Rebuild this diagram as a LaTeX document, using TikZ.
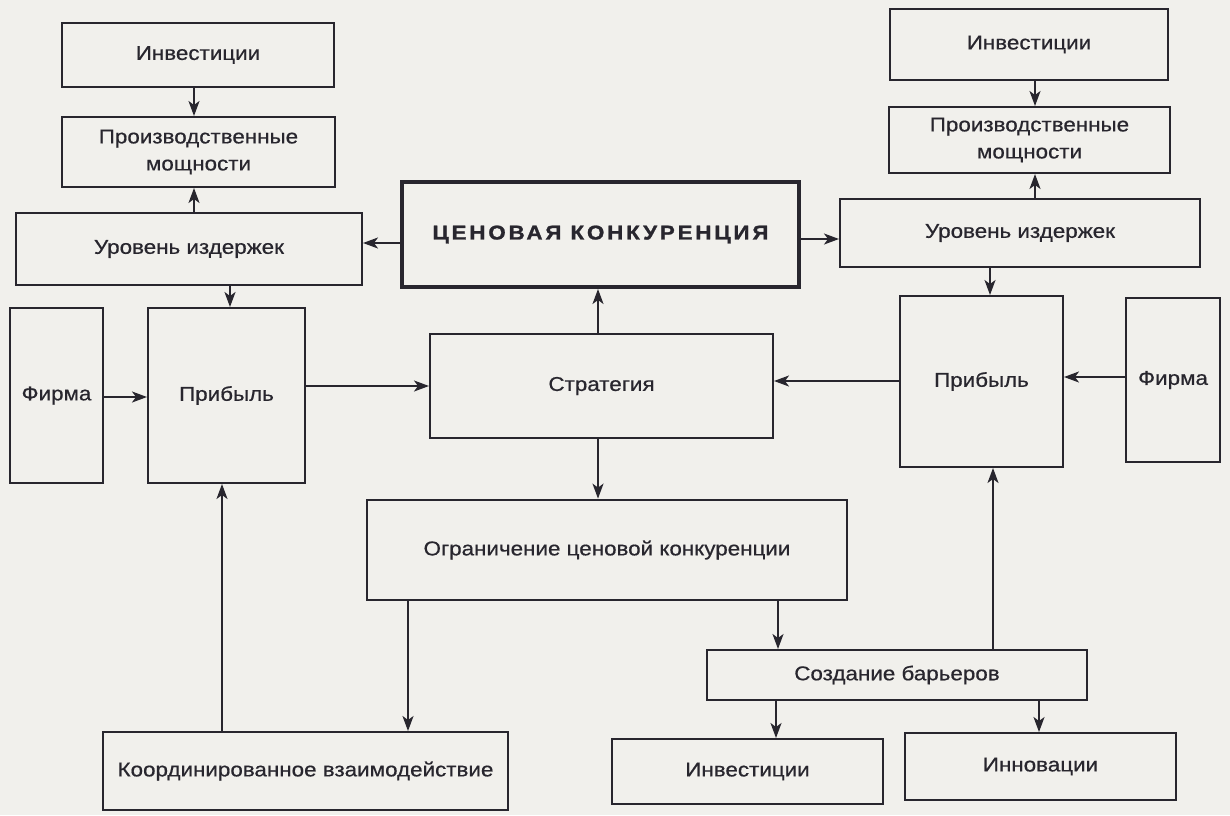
\documentclass[tikz,border=0pt]{standalone}
\usepackage{fontspec}
\setmainfont{Liberation Sans}[FakeStretch=1.12,FakeBold=0.6]
\newfontfamily\capsfont{Liberation Sans}[FakeStretch=1.12,LetterSpace=14,FakeBold=1.2]
\usetikzlibrary{arrows.meta}
\definecolor{paper}{RGB}{241,240,236}
\definecolor{ink}{RGB}{40,38,46}
\tikzset{
  box/.style={draw=ink, line width=2pt, text=ink, inner sep=0pt, align=center,
    font=\fontsize{20}{27}\selectfont},
  thickbox/.style={box, line width=4pt},
  midbox/.style={box, line width=2.8pt},
  arr/.style={draw=ink, line width=1.7pt, -{Stealth[length=15pt,width=11pt,inset=4pt]}},
}
\begin{document}
\begin{tikzpicture}[x=1pt,y=-1pt]
\fill[paper] (0,0) rectangle (1230,815);
\useasboundingbox (0,0) rectangle (1230,815);

% left column
\node[box, minimum width=272, minimum height=64] (invL) at (198,55) {Инвестиции};
\node[box, minimum width=273, minimum height=70] (prodL) at (198.5,152) {Производственные\\мощности};
\node[box, minimum width=346, minimum height=72] (costL) at (189,249) {Уровень издержек};
\node[box, minimum width=93, minimum height=175] (firmL) at (56.5,395.5) {Фирма};
\node[box, minimum width=157, minimum height=175] (profL) at (226.5,395.5) {Прибыль};

% centre
\node[thickbox, minimum width=397, minimum height=105] (price) at (600.5,234.5)
  {\capsfont\bfseries ЦЕНОВАЯ\hspace{0.45em}КОНКУРЕНЦИЯ};
\node[box, minimum width=343, minimum height=104] (strat) at (601.5,386) {Стратегия};
\node[midbox, minimum width=480, minimum height=100] (limit) at (607,550) {Ограничение ценовой конкуренции};
\node[box, minimum width=405, minimum height=78] (coord) at (305.5,771) {Координированное взаимодействие};

% right column
\node[box, minimum width=278, minimum height=71] (invR) at (1029,44.5) {Инвестиции};
\node[box, minimum width=281, minimum height=66] (prodR) at (1029.5,140) {Производственные\\мощности};
\node[box, minimum width=360, minimum height=68] (costR) at (1020,233) {Уровень издержек};
\node[box, minimum width=163, minimum height=171] (profR) at (981.5,381.5) {Прибыль};
\node[box, minimum width=94, minimum height=164] (firmR) at (1173,380) {Фирма};

% bottom right
\node[box, minimum width=380, minimum height=50] (barr) at (897,675) {Создание барьеров};
\node[box, minimum width=271, minimum height=65] (invB) at (747.5,771.5) {Инвестиции};
\node[box, minimum width=271, minimum height=67] (innov) at (1040.5,766.5) {Инновации};

% helper coordinates
\coordinate (v194) at (194,0);
\coordinate (v230) at (230,0);
\coordinate (v222) at (222,0);
\coordinate (v598) at (598,0);
\coordinate (v408) at (408,0);
\coordinate (v778) at (778,0);
\coordinate (v776) at (776,0);
\coordinate (v993) at (993,0);
\coordinate (v990) at (990,0);
\coordinate (v1035) at (1035,0);
\coordinate (v1039) at (1039,0);
\coordinate (h243) at (0,243);
\coordinate (h239) at (0,239);
\coordinate (h397) at (0,397);
\coordinate (h386) at (0,386);
\coordinate (h381) at (0,381);
\coordinate (h377) at (0,377);

% connectors left
\draw[arr] (invL.south -| v194) -- (prodL.north -| v194);
\draw[arr] (costL.north -| v194) -- (prodL.south -| v194);
\draw[arr] (price.west |- h243) -- (costL.east |- h243);
\draw[arr] (costL.south -| v230) -- (profL.north -| v230);
\draw[arr] (firmL.east |- h397) -- (profL.west |- h397);
\draw[arr] (profL.east |- h386) -- (strat.west |- h386);
\draw[arr] (coord.north -| v222) -- (profL.south -| v222);

% connectors centre
\draw[arr] (strat.north -| v598) -- (price.south -| v598);
\draw[arr] (strat.south -| v598) -- (limit.north -| v598);
\draw[arr] (limit.south -| v408) -- (coord.north -| v408);
\draw[arr] (limit.south -| v778) -- (barr.north -| v778);

% connectors right
\draw[arr] (price.east |- h239) -- (costR.west |- h239);
\draw[arr] (invR.south -| v1035) -- (prodR.north -| v1035);
\draw[arr] (costR.north -| v1035) -- (prodR.south -| v1035);
\draw[arr] (costR.south -| v990) -- (profR.north -| v990);
\draw[arr] (firmR.west |- h377) -- (profR.east |- h377);
\draw[arr] (profR.west |- h381) -- (strat.east |- h381);
\draw[arr] (barr.north -| v993) -- (profR.south -| v993);
\draw[arr] (barr.south -| v776) -- (invB.north -| v776);
\draw[arr] (barr.south -| v1039) -- (innov.north -| v1039);
\end{tikzpicture}
\end{document}
